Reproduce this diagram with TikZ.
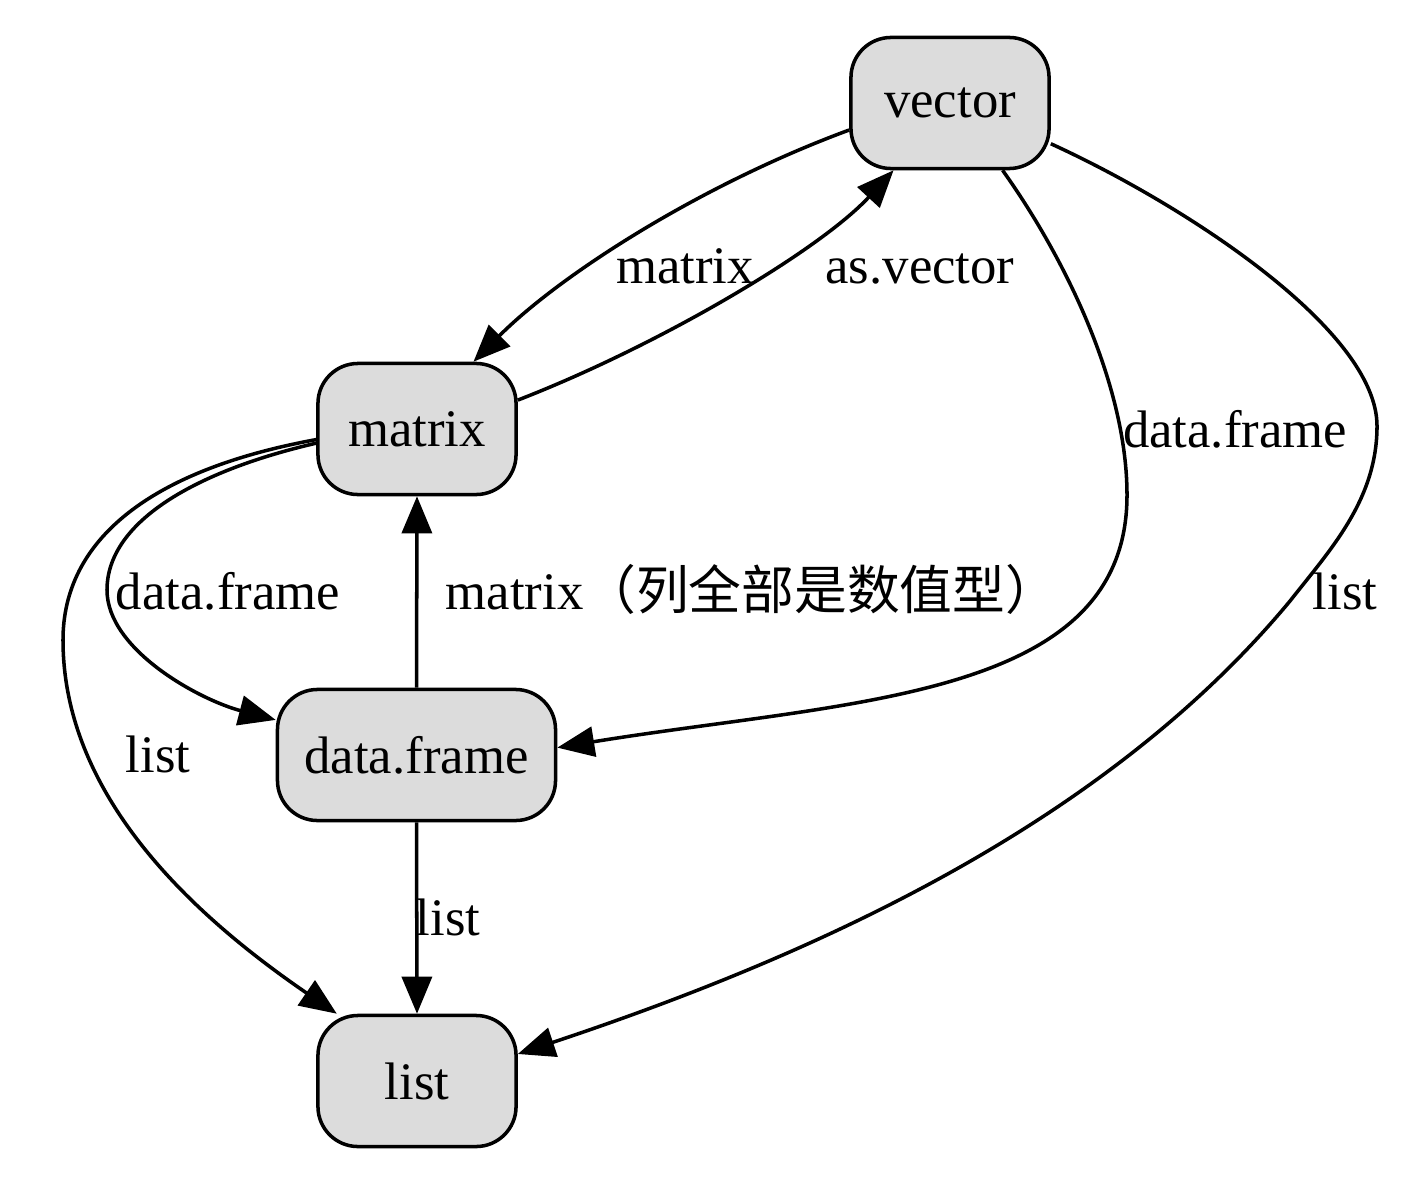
\documentclass[tikz,border=0pt]{standalone}
\usepackage{fontspec}
\setmainfont{Liberation Serif}
\newfontfamily\cjkfont{Noto Sans CJK SC}
\usetikzlibrary{arrows.meta}
\definecolor{boxgray}{HTML}{DCDCDC}
\tikzset{
	box/.style={draw, line width=1pt, fill=boxgray, rounded corners=0.4cm, minimum width=1.98cm, minimum height=1.31cm, inner xsep=0.27cm, font=\fontsize{15}{18}\selectfont},
	lbl/.style={anchor=base, inner sep=0pt, font=\fontsize{15}{18}\selectfont},
	conv/.style={line width=1pt, -{Triangle[length=0.37cm, width=0.3cm]}}
}

\begin{document}
\begin{tikzpicture}[x=0.01cm, y=-0.01cm]
		\useasboundingbox (0,0) rectangle (1428,1176);
		\node[box] (vector) at (950,103) {vector};
		\node[box] (matrix) at (417,429) {matrix};
		\node[box] (dataframe) at (416.5,755) {data.frame};
		\node[box] (list) at (417,1081) {list};
		\node[lbl] (l-vm) at (685,283) {matrix};
		\node[lbl] (l-mv) at (920,283) {as.vector};
		\node[lbl] (l-vd) at (1235,447) {data.frame};
		\node[lbl] (l-vl) at (1345,609) {list};
		\node[lbl] (l-md) at (228,609) {data.frame};
		\node[lbl, anchor=base west] (l-dm) at (445,609) {matrix{\cjkfont（列全部是数值型）}};
		\node[lbl] (l-ml) at (158,772) {list};
		\node[lbl] (l-dl) at (448,935) {list};
		\draw[conv] (vector.195) .. controls (700,185) and (560,275) .. (matrix.50);
		\draw[conv] (matrix.16) .. controls (660,345) and (820,250) .. (vector.230);
		\draw[conv] (vector.308) .. controls (1070,265) and (1127,390) .. (1127,495) .. controls (1127,700) and (850,700) .. (dataframe.3);
		\draw[conv] (vector.338) .. controls (1185,205) and (1377,330) .. (1377,426) .. controls (1377,500) and (1330,550) .. (1290,601) .. controls (1100,830) and (800,960) .. (list.15);
		\draw[conv] (matrix.188.5) .. controls (200,470) and (107,520) .. (107,590) .. controls (107,650) and (200,700) .. (dataframe.166);
		\draw[conv] (matrix.186) .. controls (150,470) and (63,540) .. (63,640) .. controls (63,800) and (200,920) .. (list.140);
		\draw[conv] (dataframe.north) -- (matrix.south);
		\draw[conv] (dataframe.south) -- (list.north);
	\end{tikzpicture}
\end{document}
